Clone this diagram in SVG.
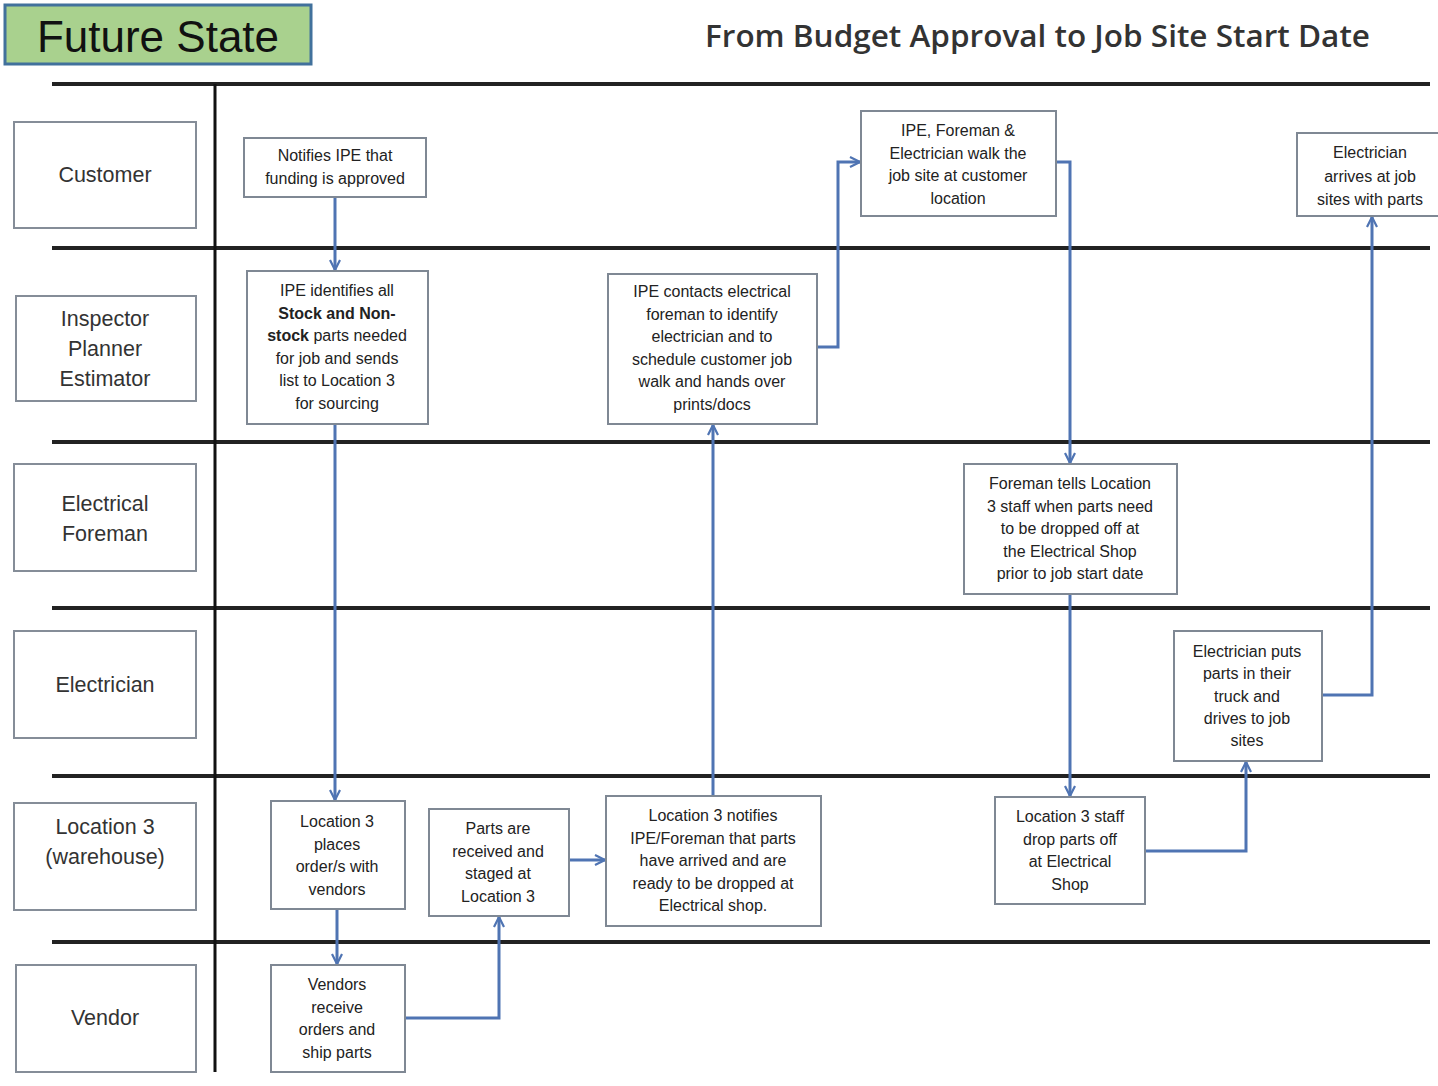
<svg xmlns="http://www.w3.org/2000/svg" width="1438" height="1086" viewBox="0 0 1438 1086">
<defs>
<marker id="arr" viewBox="0 0 12 12" refX="11" refY="6" markerWidth="12" markerHeight="12" markerUnits="userSpaceOnUse" orient="auto">
<path d="M1,1 L11,6 L1,11" fill="none" stroke="#4f74b3" stroke-width="2.2"/>
</marker>
<style>
.lane{stroke:#222;stroke-width:4;}
.lbl{fill:#fff;stroke:#858d98;stroke-width:2;}
.lt{font-family:"Liberation Sans",Arial,sans-serif;font-size:21.5px;fill:#333;text-anchor:middle;}
.box{fill:#fff;stroke:#7f8894;stroke-width:2;}
.bt{font-family:"Liberation Sans",Arial,sans-serif;font-size:16px;fill:#222;text-anchor:middle;}
.b{font-weight:bold;}
.con{fill:none;stroke:#4f74b3;stroke-width:3;marker-end:url(#arr);}
</style>
</defs>
<rect width="1438" height="1086" fill="#fff"/>
<g id="header">
<rect x="5" y="5" width="306" height="59" fill="#a9d18e" stroke="#41719c" stroke-width="3"/>
<text x="158" y="52" font-family="Liberation Sans,Arial,sans-serif" font-size="44" fill="#111" text-anchor="middle">Future State</text>
<text x="705" y="47" font-family="Open Sans,Liberation Sans,sans-serif" font-size="30" font-weight="600" fill="#333" textLength="665" lengthAdjust="spacingAndGlyphs">From Budget Approval to Job Site Start Date</text>
</g>
<g id="grid">
<line class="lane" x1="52" y1="84" x2="1430" y2="84"/>
<line class="lane" x1="52" y1="248" x2="1430" y2="248"/>
<line class="lane" x1="52" y1="442" x2="1430" y2="442"/>
<line class="lane" x1="52" y1="608" x2="1430" y2="608"/>
<line class="lane" x1="52" y1="776" x2="1430" y2="776"/>
<line class="lane" x1="52" y1="942" x2="1430" y2="942"/>
<line x1="215" y1="84" x2="215" y2="1072" stroke="#111" stroke-width="3"/>
</g>
<g id="lane-customer"><rect class="lbl" x="14" y="122" width="182" height="106"/><text class="lt" x="105" y="182">Customer</text></g>
<g id="lane-ipe"><rect class="lbl" x="16" y="296" width="180" height="105"/><text class="lt" x="105" y="326">Inspector<tspan x="105" dy="30">Planner</tspan><tspan x="105" dy="30">Estimator</tspan></text></g>
<g id="lane-foreman"><rect class="lbl" x="14" y="464" width="182" height="107"/><text class="lt" x="105" y="511">Electrical<tspan x="105" dy="30">Foreman</tspan></text></g>
<g id="lane-electrician"><rect class="lbl" x="14" y="631" width="182" height="107"/><text class="lt" x="105" y="692">Electrician</text></g>
<g id="lane-location3"><rect class="lbl" x="14" y="803" width="182" height="107"/><text class="lt" x="105" y="834">Location 3<tspan x="105" dy="30">(warehouse)</tspan></text></g>
<g id="lane-vendor"><rect class="lbl" x="16" y="965" width="180" height="107"/><text class="lt" x="105" y="1025">Vendor</text></g>

<g id="connectors">
<path class="con" d="M335,197 V270"/>
<path class="con" d="M335,424 V800"/>
<path class="con" d="M337,909 V964"/>
<path class="con" d="M405,1018 H499 V917"/>
<path class="con" d="M569,860 H605"/>
<path class="con" d="M713,796 V425"/>
<path class="con" d="M817,347 H838 V162 H860"/>
<path class="con" d="M1056,162 H1070 V463"/>
<path class="con" d="M1070,594 V796"/>
<path class="con" d="M1145,851 H1246 V762"/>
<path class="con" d="M1322,695 H1372 V217"/>
</g>

<g id="n1"><rect class="box" x="244" y="138" width="182" height="59"/><text class="bt" x="335" y="161">Notifies IPE that<tspan x="335" dy="23">funding is approved</tspan></text></g>
<g id="n2"><rect class="box" x="247" y="271" width="181" height="153"/><text class="bt" x="337" y="296">IPE identifies all<tspan x="337" dy="22.6" class="b">Stock and Non-</tspan><tspan x="337" dy="22.6"><tspan class="b">stock</tspan> parts needed</tspan><tspan x="337" dy="22.6">for job and sends</tspan><tspan x="337" dy="22.6">list to Location 3</tspan><tspan x="337" dy="22.6">for sourcing</tspan></text></g>
<g id="n3"><rect class="box" x="608" y="274" width="209" height="150"/><text class="bt" x="712" y="297">IPE contacts electrical<tspan x="712" dy="22.6">foreman to identify</tspan><tspan x="712" dy="22.6">electrician and to</tspan><tspan x="712" dy="22.6">schedule customer job</tspan><tspan x="712" dy="22.6">walk and hands over</tspan><tspan x="712" dy="22.6">prints/docs</tspan></text></g>
<g id="n4"><rect class="box" x="861" y="111" width="195" height="105"/><text class="bt" x="958" y="136">IPE, Foreman &amp;<tspan x="958" dy="22.5">Electrician walk the</tspan><tspan x="958" dy="22.5">job site at customer</tspan><tspan x="958" dy="22.5">location</tspan></text></g>
<g id="n5"><rect class="box" x="1297" y="133" width="145" height="83"/><text class="bt" x="1370" y="158">Electrician<tspan x="1370" dy="23.5">arrives at job</tspan><tspan x="1370" dy="23.5">sites with parts</tspan></text></g>
<g id="n6"><rect class="box" x="964" y="464" width="213" height="130"/><text class="bt" x="1070" y="489">Foreman tells Location<tspan x="1070" dy="22.5">3 staff when parts need</tspan><tspan x="1070" dy="22.5">to be dropped off at</tspan><tspan x="1070" dy="22.5">the Electrical Shop</tspan><tspan x="1070" dy="22.5">prior to job start date</tspan></text></g>
<g id="n7"><rect class="box" x="1174" y="631" width="148" height="130"/><text class="bt" x="1247" y="657">Electrician puts<tspan x="1247" dy="22.3">parts in their</tspan><tspan x="1247" dy="22.3">truck and</tspan><tspan x="1247" dy="22.3">drives to job</tspan><tspan x="1247" dy="22.3">sites</tspan></text></g>
<g id="n8"><rect class="box" x="271" y="801" width="134" height="108"/><text class="bt" x="337" y="827">Location 3<tspan x="337" dy="22.5">places</tspan><tspan x="337" dy="22.5">order/s with</tspan><tspan x="337" dy="22.5">vendors</tspan></text></g>
<g id="n9"><rect class="box" x="429" y="809" width="140" height="107"/><text class="bt" x="498" y="834">Parts are<tspan x="498" dy="22.5">received and</tspan><tspan x="498" dy="22.5">staged at</tspan><tspan x="498" dy="22.5">Location 3</tspan></text></g>
<g id="n10"><rect class="box" x="606" y="796" width="215" height="130"/><text class="bt" x="713" y="821">Location 3 notifies<tspan x="713" dy="22.5">IPE/Foreman that parts</tspan><tspan x="713" dy="22.5">have arrived and are</tspan><tspan x="713" dy="22.5">ready to be dropped at</tspan><tspan x="713" dy="22.5">Electrical shop.</tspan></text></g>
<g id="n11"><rect class="box" x="995" y="797" width="150" height="107"/><text class="bt" x="1070" y="822">Location 3 staff<tspan x="1070" dy="22.5">drop parts off</tspan><tspan x="1070" dy="22.5">at Electrical</tspan><tspan x="1070" dy="22.5">Shop</tspan></text></g>
<g id="n12"><rect class="box" x="271" y="965" width="134" height="107"/><text class="bt" x="337" y="990">Vendors<tspan x="337" dy="22.5">receive</tspan><tspan x="337" dy="22.5">orders and</tspan><tspan x="337" dy="22.5">ship parts</tspan></text></g>
</svg>
